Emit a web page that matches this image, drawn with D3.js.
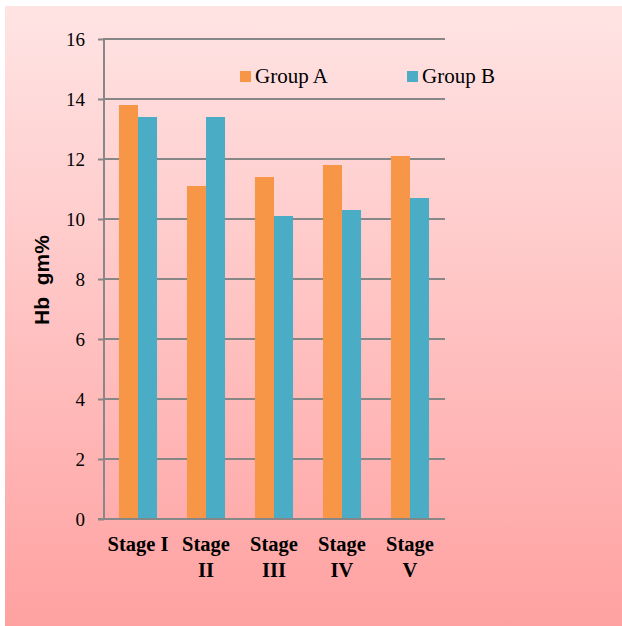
<!DOCTYPE html>
<html>
<head>
<meta charset="utf-8">
<script src="https://cdn.jsdelivr.net/npm/d3@7"></script>
<style>
  html, body { margin: 0; padding: 0; background: #ffffff; }
  svg { display: block; }
  .serif { font-family: "Liberation Serif", "Times New Roman", serif; }
  .sans { font-family: "Liberation Sans", Arial, sans-serif; }
</style>
</head>
<body>
<svg id="chart" width="622" height="626"></svg>
<script>
// Haemoglobin (gm%) by stage for two groups
const categories = ["Stage I", "Stage II", "Stage III", "Stage IV", "Stage V"];
const categoryLabels = [["Stage I"], ["Stage", "II"], ["Stage", "III"], ["Stage", "IV"], ["Stage", "V"]];
const groups = ["Group A", "Group B"];
const groupA = [13.8, 11.1, 11.4, 11.8, 12.1];
const groupB = [13.4, 13.4, 10.1, 10.3, 10.7];
const yTicks = [0, 2, 4, 6, 8, 10, 12, 14, 16];
const colors = ["#F79646", "#4BACC6"];

const svg = d3.select("#chart");
const W = 622, H = 626;

// Background panel with vertical pink gradient
const defs = svg.append("defs");
const grad = defs.append("linearGradient")
  .attr("id", "bg").attr("x1", 0).attr("y1", 0).attr("x2", 0).attr("y2", 1);
grad.append("stop").attr("offset", "0%").attr("stop-color", "#FFE4E4");
grad.append("stop").attr("offset", "100%").attr("stop-color", "#FFA1A1");
svg.append("rect")
  .attr("x", 5).attr("y", 6).attr("width", W - 5).attr("height", H - 6)
  .attr("fill", "url(#bg)");

const plot = { left: 104, right: 444, top: 39, bottom: 519 };

const x0 = d3.scaleBand().domain(categories).range([plot.left, plot.right]).padding(0);
const x1 = d3.scaleBand().domain(groups)
  .range([x0.bandwidth() * 0.22, x0.bandwidth() * 0.78]).padding(0);
const y = d3.scaleLinear().domain([0, 16]).range([plot.bottom, plot.top]);

const gridColor = "#878787";

// Horizontal gridlines with short outside ticks
const yAxis = d3.axisLeft(y).tickValues(yTicks).tickSize(6).tickPadding(13)
  .tickFormat(d3.format("d"));
const yg = svg.append("g").attr("transform", `translate(${plot.left},0)`).call(yAxis);
yg.attr("font-family", null).attr("font-size", null);
yg.select(".domain").remove();
yg.selectAll(".tick line").attr("stroke", gridColor).attr("stroke-width", 2);
yg.selectAll(".tick text")
  .attr("class", "serif")
  .style("font-size", "19px").attr("fill", "#000");

svg.append("g").selectAll("line.grid")
  .data(yTicks).join("line")
  .attr("x1", plot.left).attr("x2", plot.right + 1)
  .attr("y1", d => y(d)).attr("y2", d => y(d))
  .attr("stroke", gridColor).attr("stroke-width", 2);

// Bars
const rows = categories.map((c, i) => ({ cat: c, vals: [groupA[i], groupB[i]] }));
const barG = svg.append("g");
rows.forEach(r => {
  r.vals.forEach((v, j) => {
    barG.append("rect")
      .attr("x", x0(r.cat) + x1(groups[j]))
      .attr("y", y(v))
      .attr("width", x1.bandwidth())
      .attr("height", y(0) - y(v))
      .attr("fill", colors[j]);
  });
});

// Vertical axis line and baseline
svg.append("line")
  .attr("x1", plot.left).attr("x2", plot.left)
  .attr("y1", plot.top - 1).attr("y2", plot.bottom + 1)
  .attr("stroke", gridColor).attr("stroke-width", 2);
svg.append("line")
  .attr("x1", plot.left - 6).attr("x2", plot.right + 1)
  .attr("y1", y(0)).attr("y2", y(0))
  .attr("stroke", gridColor).attr("stroke-width", 2);

// Category labels (bold, two lines where the name is wrapped)
const xg = svg.append("g");
categories.forEach((c, i) => {
  const cx = x0(c) + x0.bandwidth() / 2;
  const t = xg.append("text")
    .attr("class", "serif")
    .attr("text-anchor", "middle")
    .style("font-weight", "bold").style("font-size", "20.5px").attr("fill", "#000");
  categoryLabels[i].forEach((line, k) => {
    t.append("tspan").attr("x", cx).attr("y", 551 + k * 26).text(line);
  });
});

// Y axis title
svg.append("text")
  .attr("class", "sans")
  .attr("transform", "translate(49,280) rotate(-90)")
  .attr("text-anchor", "middle")
  .style("font-weight", "bold").style("font-size", "21px").attr("fill", "#000")
  .style("white-space", "pre")
  .text("Hb  gm%");

// Legend
const legendX = [240, 407];
const lg = svg.append("g");
groups.forEach((g, j) => {
  lg.append("rect")
    .attr("x", legendX[j]).attr("y", 71).attr("width", 11).attr("height", 11)
    .attr("fill", colors[j]);
  lg.append("text")
    .attr("class", "serif")
    .attr("x", legendX[j] + 15).attr("y", 83)
    .style("font-size", "21px").attr("fill", "#000")
    .text(g);
});
</script>
</body>
</html>
